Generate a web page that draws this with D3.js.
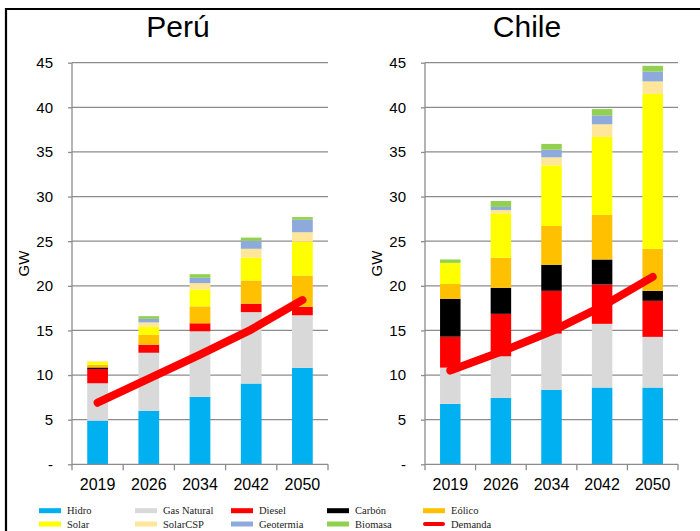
<!DOCTYPE html>
<html>
<head>
<meta charset="utf-8">
<script src="https://cdn.jsdelivr.net/npm/d3@7"></script>
<style>
  html, body { margin: 0; padding: 0; background: #fff; }
  svg { display: block; }
</style>
</head>
<body>
<svg id="chart" width="700" height="531"></svg>
<script>
// ---------------- DATA ----------------
const years = ["2019", "2026", "2034", "2042", "2050"];
const series = ["Hidro", "Gas Natural", "Diesel", "Carbón", "Eólico", "Solar", "SolarCSP", "Geotermia", "Biomasa"];
const colors = ["#00B0F0", "#D9D9D9", "#FF0000", "#000000", "#FFC000", "#FFFF00", "#FFE699", "#8EA9DB", "#92D050"];
const demandColor = "#FF0000";
const yTicks = [0, 5, 10, 15, 20, 25, 30, 35, 40, 45];
const yTickLabels = ["-", "5", "10", "15", "20", "25", "30", "35", "40", "45"];

// Perú: one array per technology, values per year (GW)
const peruHidro     = [4.9, 6.0, 7.55, 9.05, 10.8];
const peruGas       = [4.18, 6.5, 7.35, 8.0, 5.9];
const peruDiesel    = [1.6, 0.9, 0.9, 0.95, 0.95];
const peruCarbon    = [0.17, 0, 0, 0, 0];
const peruEolico    = [0.3, 1.1, 1.9, 2.6, 3.5];
const peruSolar     = [0.35, 0.9, 1.9, 2.57, 3.81];
const peruCSP       = [0.1, 0.5, 0.7, 0.98, 1.04];
const peruGeo       = [0, 0.4, 0.6, 0.89, 1.4];
const peruBio       = [0, 0.3, 0.4, 0.36, 0.3];
const peruDemanda   = [6.9, 9.6, 12.3, 15.1, 18.4];

// Chile
const chileHidro    = [6.77, 7.44, 8.34, 8.6, 8.6];
const chileGas      = [4.06, 4.66, 6.3, 7.14, 5.68];
const chileDiesel   = [3.47, 4.76, 4.8, 4.41, 4.04];
const chileCarbon   = [4.25, 2.92, 2.92, 2.8, 1.12];
const chileEolico   = [1.65, 3.35, 4.34, 5.0, 4.7];
const chileSolar    = [2.37, 5.0, 6.8, 8.75, 17.36];
const chileCSP      = [0, 0.37, 0.9, 1.4, 1.4];
const chileGeo      = [0, 0.34, 0.85, 1.0, 1.1];
const chileBio      = [0.38, 0.66, 0.65, 0.7, 0.65];
const chileDemanda  = [10.5, 12.6, 14.9, 17.7, 21.0];

const panels = [
  { title: "Perú", titleX: 178, x0: 72, x1: 328,
    values: [peruHidro, peruGas, peruDiesel, peruCarbon, peruEolico, peruSolar, peruCSP, peruGeo, peruBio],
    demand: peruDemanda },
  { title: "Chile", titleX: 527, x0: 425, x1: 678,
    values: [chileHidro, chileGas, chileDiesel, chileCarbon, chileEolico, chileSolar, chileCSP, chileGeo, chileBio],
    demand: chileDemanda }
];

// ---------------- DRAW ----------------
const svg = d3.select("#chart");
const sans = "'Liberation Sans', Arial, sans-serif";
const serif = "'Liberation Serif', 'Times New Roman', serif";
const gridColor = "#8c8c8c";

const yTop = 62.7, yBottom = 464.3;
const y = d3.scaleLinear().domain([0, 45]).range([yBottom, yTop]);

// frame
svg.append("line").attr("x1", 5).attr("x2", 700).attr("y1", 9).attr("y2", 9)
  .attr("stroke", "#000").attr("stroke-width", 2.2);
svg.append("line").attr("x1", 6).attr("x2", 6).attr("y1", 8).attr("y2", 531)
  .attr("stroke", "#000").attr("stroke-width", 2.2);

panels.forEach(p => {
  const g = svg.append("g");
  const x = d3.scaleBand().domain(years).range([p.x0, p.x1]).padding(0);
  const barW = x.bandwidth() * 0.405;
  const barOff = (x.bandwidth() - barW) / 2;

  // title
  g.append("text").attr("x", p.titleX).attr("y", 37).attr("text-anchor", "middle")
    .attr("font-family", sans).attr("font-size", 30).attr("fill", "#000").text(p.title);

  // gridlines (skip 0)
  g.selectAll(".grid").data(yTicks.filter(t => t > 0)).enter().append("line")
    .attr("x1", p.x0).attr("x2", p.x1).attr("y1", d => y(d)).attr("y2", d => y(d))
    .attr("stroke", gridColor).attr("stroke-width", 1.3);

  // y axis
  const yAxis = d3.axisLeft(y).tickValues(yTicks)
    .tickFormat((d, i) => yTickLabels[i]).tickSize(4).tickPadding(15);
  const ya = g.append("g").attr("transform", `translate(${p.x0},0)`).call(yAxis);
  ya.select(".domain").attr("stroke", gridColor).attr("stroke-width", 1.3)
    .attr("d", `M0,${yTop}V${yBottom}`);
  ya.selectAll(".tick line").attr("stroke", gridColor).attr("stroke-width", 1.3);
  ya.selectAll(".tick text").attr("font-family", sans).attr("font-size", 15).attr("fill", "#000");

  // y title
  g.append("text").attr("transform", `translate(${p.x0 - 43},${(yTop + yBottom) / 2}) rotate(-90)`)
    .attr("text-anchor", "middle").attr("font-family", sans).attr("font-size", 15)
    .attr("fill", "#000").text("GW");

  // stacked bars
  const rows = years.map((yr, i) => {
    const r = { year: yr };
    series.forEach((s, k) => r[s] = p.values[k][i]);
    return r;
  });
  const stack = d3.stack().keys(series)(rows);
  stack.forEach((layer, k) => {
    g.selectAll(null).data(layer).enter().append("rect")
      .attr("x", d => x(d.data.year) + barOff)
      .attr("width", barW)
      .attr("y", d => y(d[1]))
      .attr("height", d => Math.max(0, y(d[0]) - y(d[1])))
      .attr("fill", colors[k]);
  });

  // x axis
  const xAxis = d3.axisBottom(x).tickSize(0).tickPadding(14);
  const xa = g.append("g").attr("transform", `translate(0,${yBottom})`).call(xAxis);
  xa.select(".domain").attr("stroke", gridColor).attr("stroke-width", 1.3)
    .attr("d", `M${p.x0},0H${p.x1}`);
  xa.selectAll(".tick text").attr("font-family", sans).attr("font-size", 16).attr("fill", "#000");
  const bounds = years.map(d => x(d)).concat([x(years[years.length - 1]) + x.step()]);
  xa.selectAll(".bt").data(bounds).enter().append("line")
    .attr("x1", d => d).attr("x2", d => d).attr("y1", 0).attr("y2", 6)
    .attr("stroke", gridColor).attr("stroke-width", 1.3);

  // demand line
  const line = d3.line().x((d, i) => x(years[i]) + x.bandwidth() / 2).y(d => y(d));
  g.append("path").datum(p.demand).attr("d", line).attr("fill", "none")
    .attr("stroke", demandColor).attr("stroke-width", 8)
    .attr("stroke-linecap", "round").attr("stroke-linejoin", "round");
});

// legend
const legendItems = series.map((s, i) => ({ name: s, color: colors[i], type: "rect" }))
  .concat([{ name: "Demanda", color: demandColor, type: "line" }]);
const colX = [39, 135, 231, 327, 423];
const rowY = [510.7, 524];
const lg = svg.append("g");
legendItems.forEach((it, i) => {
  const cx = colX[i % 5], cy = rowY[Math.floor(i / 5)];
  if (it.type === "rect") {
    lg.append("rect").attr("x", cx).attr("y", cy - 2.5).attr("width", 22).attr("height", 5).attr("fill", it.color);
  } else {
    lg.append("line").attr("x1", cx + 2).attr("x2", cx + 20).attr("y1", cy).attr("y2", cy)
      .attr("stroke", it.color).attr("stroke-width", 4).attr("stroke-linecap", "round");
  }
  lg.append("text").attr("x", cx + 28).attr("y", cy).attr("dy", "0.35em")
    .attr("font-family", serif).attr("font-size", 10.5).attr("fill", "#222").text(it.name);
});
</script>
</body>
</html>
